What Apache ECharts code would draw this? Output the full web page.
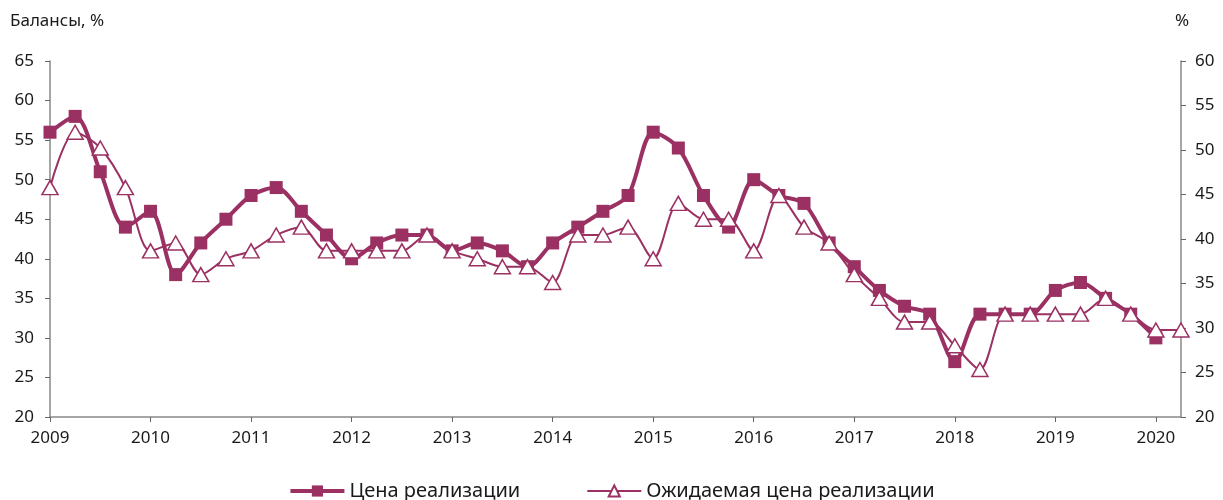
<!DOCTYPE html>
<html>
<head>
<meta charset="utf-8">
<script src="https://cdn.jsdelivr.net/npm/echarts@6/dist/echarts.min.js"></script>
<style>
  html, body { margin: 0; padding: 0; background: #fff; }
  #main { width: 1223px; height: 500px; }
</style>
</head>
<body>
<div id="main"></div>
<script>
// годы по оси X (кварталы внутри года)
const years = ['2009', '2010', '2011', '2012', '2013', '2014', '2015', '2016', '2017', '2018', '2019', '2020']
const quarterNames = ['I', 'II', 'III', 'IV']

// Цена реализации, балансы, % (2009 I – 2020 I)
const priceActual = [
  56, 58, 51, 44,
  46, 38, 42, 45,
  48, 49, 46, 43,
  40, 42, 43, 43,
  41, 42, 41, 39,
  42, 44, 46, 48,
  56, 54, 48, 44,
  50, 48, 47, 42,
  39, 36, 34, 33,
  27, 33, 33, 33,
  36, 37, 35, 33,
  30
]

// Ожидаемая цена реализации (2009 I – 2020 II)
const priceExpected = [
  49, 56, 54, 49,
  41, 42, 38, 40,
  41, 43, 44, 41,
  41, 41, 41, 43,
  41, 40, 39, 39,
  37, 43, 43, 44,
  40, 47, 45, 45,
  41, 48, 44, 42,
  38, 35, 32, 32,
  29, 26, 33, 33,
  33, 33, 35, 33,
  31, 31
]

const leftTicks = { min: 20, max: 65, interval: 5 }
const rightTicks = { min: 20, max: 60, interval: 5 }

// категории: все кварталы до 2020 II
const categories = []
years.forEach(y => quarterNames.forEach(q => categories.push(y + ' ' + q)))
categories.length = priceExpected.length

const color = '#9b3163'
const font = 'Noto Sans'
const textColor = '#1a1a1a'

const chart = echarts.init(document.getElementById('main'))

const option = {
  animation: false,
  textStyle: { fontFamily: font },
  grid: { left: 50, right: 42, top: 61, bottom: 83 },
  graphic: [
    { type: 'text', left: 10, top: 13, style: { text: 'Балансы, %', fontSize: 17, fontFamily: font, fill: textColor } },
    { type: 'text', left: 1175, top: 13, style: { text: '%', fontSize: 17, fontFamily: font, fill: textColor } }
  ],
  legend: {
    bottom: -6,
    left: 'center',
    itemWidth: 54,
    itemHeight: 14,
    itemGap: 66,
    textStyle: { fontSize: 20, color: textColor, fontFamily: font },
    data: [
      { name: 'Цена реализации', lineStyle: { width: 4 } },
      { name: 'Ожидаемая цена реализации', lineStyle: { width: 2 } }
    ]
  },
  xAxis: {
    type: 'category',
    data: categories,
    boundaryGap: false,
    axisLine: { lineStyle: { color: '#888', width: 1.5 } },
    axisTick: { interval: 3, length: 5, lineStyle: { color: '#666' } },
    axisLabel: {
      interval: 3,
      margin: 13,
      fontSize: 17,
      color: textColor,
      formatter: v => v.split(' ')[0]
    },
    splitLine: { show: false }
  },
  yAxis: [
    {
      type: 'value',
      ...leftTicks,
      axisLine: { show: true, lineStyle: { color: '#888', width: 1.5 } },
      axisTick: { show: true, length: 5, lineStyle: { color: '#666' } },
      axisLabel: { fontSize: 17, color: textColor, margin: 16 },
      splitLine: { show: false }
    },
    {
      type: 'value',
      position: 'right',
      ...rightTicks,
      axisLine: { show: true, lineStyle: { color: '#888', width: 1.5 } },
      axisTick: { show: true, length: 5, lineStyle: { color: '#666' } },
      axisLabel: { fontSize: 17, color: textColor, margin: 14 },
      splitLine: { show: false }
    }
  ],
  series: [
    {
      name: 'Цена реализации',
      type: 'line',
      yAxisIndex: 0,
      data: priceActual,
      smooth: 0.3,
      symbol: 'rect',
      symbolSize: 13,
      itemStyle: { color: color },
      lineStyle: { color: color, width: 4 },
      z: 3
    },
    {
      name: 'Ожидаемая цена реализации',
      type: 'line',
      yAxisIndex: 0,
      data: priceExpected,
      smooth: 0.3,
      symbol: 'triangle',
      symbolSize: [16, 14],
      itemStyle: { color: '#fff', borderColor: color, borderWidth: 1.5 },
      lineStyle: { color: color, width: 2 },
      z: 4
    }
  ]
}

chart.setOption(option)
</script>
</body>
</html>
